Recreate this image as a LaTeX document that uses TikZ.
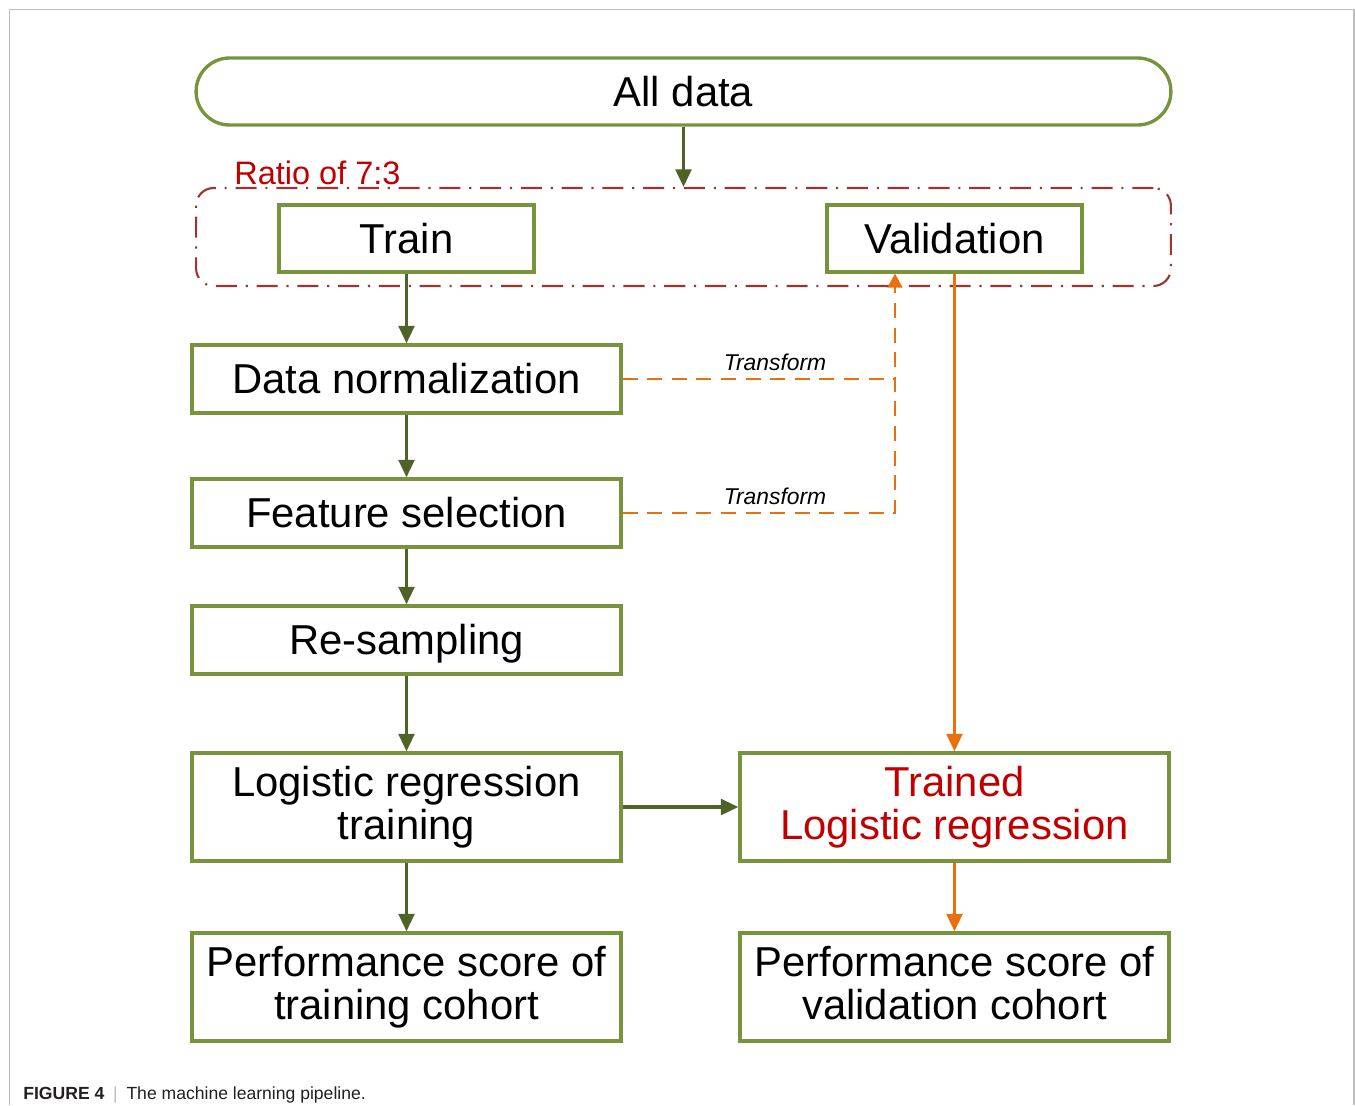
\documentclass[tikz,border=0pt]{standalone}
\usepackage{fontspec}
\setmainfont{Liberation Sans}
\usetikzlibrary{arrows.meta}
\definecolor{boxgreen}{HTML}{77933C}
\definecolor{arrowgreen}{HTML}{4F6228}
\definecolor{flowor}{HTML}{E8700F}
\definecolor{splitred}{HTML}{9B3532}
\definecolor{labelred}{HTML}{C00000}
\definecolor{framegray}{HTML}{BDBDBD}
\definecolor{captext}{HTML}{231F20}
\tikzset{
  box/.style={draw=boxgreen, line width=1.9pt, inner sep=0pt,
    font=\fontsize{23.8}{24.5}\selectfont},
  oneline/.style={box, text height=17pt, text depth=0pt},
  twoline/.style={box, align=center},
  wide/.style={minimum width=8.58cm},
  tall/.style={minimum height=2.16cm},
  short/.style={minimum height=1.36cm},
  garrow/.style={draw=arrowgreen, line width=1.8pt,
    -{Triangle[length=10pt,width=9pt]}},
  oarrow/.style={draw=flowor, line width=1.8pt,
    -{Triangle[length=10pt,width=9pt]}},
  odash/.style={draw=flowor, line width=1.2pt, dash pattern=on 8.5pt off 5.5pt},
  tlabel/.style={font=\fontsize{13}{13}\itshape, anchor=base, inner sep=0pt},
}
\begin{document}
\begin{tikzpicture}[x=0.02cm, y=-0.02cm]
\useasboundingbox (0,0) rectangle (1355,1105);
% page frame, open at the bottom
\draw[framegray, line width=0.8pt] (9.5,1105) -- (9.5,9.5) -- (1354,9.5) -- (1354,1105);

% top block and split container
\node[box, rounded corners=19pt, minimum width=19.5cm, minimum height=1.34cm,
      text height=17pt, text depth=0pt] (all) at (683.5,91.5) {All data};
\node[draw=splitred, line width=1.2pt, rounded corners=10pt,
      dash pattern=on 12pt off 5pt on 1.2pt off 5pt,
      minimum width=19.5cm, minimum height=1.96cm] (split) at (683.5,237) {};
\node[font=\fontsize{18.5}{18.5}\selectfont, text=labelred, anchor=base west,
      inner sep=0pt] (ratio) at (234,184) {Ratio of 7:3};

\node[oneline, minimum width=5.1cm, minimum height=1.34cm] (train) at (406.5,238.5) {Train};
\node[oneline, minimum width=5.1cm, minimum height=1.34cm] (val) at (954.5,238.5) {Validation};

% training branch
\node[oneline, wide, short] (dn) at (406.5,379) {Data normalization};
\node[oneline, wide, short] (fs) at (406.5,513) {Feature selection};
\node[oneline, wide, short] (rs) at (406.5,640) {Re-sampling};
\node[twoline, wide, tall] (lrt) at (406.5,807) {Logistic regression\\training};
\node[twoline, wide, tall] (pt) at (406.5,987) {Performance score of\\training cohort};

% validation branch
\node[twoline, wide, tall, text=labelred] (tlr) at (954.5,807) {Trained\\Logistic regression};
\node[twoline, wide, tall] (pv) at (954.5,987) {Performance score of\\validation cohort\vphantom{g}};

% green flow
\draw[garrow] (all.south) -- (split.north);
\draw[garrow] (train.south) -- (dn.north);
\draw[garrow] (dn.south) -- (fs.north);
\draw[garrow] (fs.south) -- (rs.north);
\draw[garrow] (rs.south) -- (lrt.north);
\draw[garrow] (lrt.south) -- (pt.north);
\draw[garrow] (lrt.east) -- (tlr.west);

% orange flow
\draw[oarrow] (val.south) -- (tlr.north);
\draw[oarrow] (tlr.south) -- (pv.north);

% transform links back to the validation set
\coordinate (tap) at (895,513);
\draw[odash] (dn.east) -- (dn.east -| tap);
\draw[odash] (fs.east) -- (tap) -- ([yshift=-8pt]tap |- val.south);
\draw[draw=flowor, line width=1.2pt, -{Triangle[length=8pt,width=8.5pt]}]
  ([yshift=-8pt]tap |- val.south) -- (tap |- val.south);
\node[tlabel] (t1) at (775,370) {Transform};
\node[tlabel] (t2) at (775,504) {Transform};

% caption
\node[anchor=base west, inner sep=0pt, text=captext,
      font=\fontsize{10}{10}\selectfont] (cap) at (23,1099)
  {\textbf{FIGURE 4}\hspace{0.5em}{\color{framegray}|}\hspace{0.5em}The machine learning pipeline.};
\end{tikzpicture}
\end{document}
